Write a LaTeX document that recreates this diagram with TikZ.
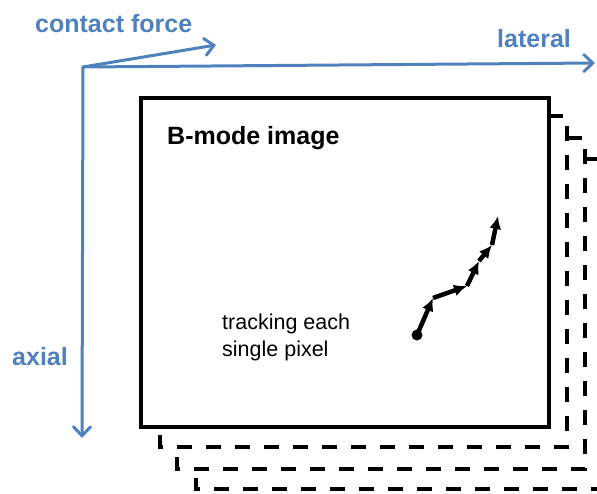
\documentclass[tikz,border=0pt]{standalone}
\usepackage{fontspec}
\setmainfont{Liberation Sans}
\usetikzlibrary{arrows.meta}
\definecolor{axisblue}{RGB}{79,129,189}
\begin{document}
\begin{tikzpicture}[x=1pt,y=-1pt,
  axis/.style={draw=axisblue, line width=3pt, line cap=round, -{Straight Barb[length=9pt,width=17pt,line cap=round]}},
  axislabel/.style={text=axisblue, font=\bfseries\fontsize{25}{30}\selectfont, inner sep=0pt, anchor=base west},
  dashrect/.style={draw=black, fill=white, line width=3.5pt, dash pattern=on 15pt off 14pt},
  mainrect/.style={draw=black, fill=white, line width=3.5pt},
  track/.style={line width=4.5pt, -{Latex[length=13pt,width=12pt]}},
]
\useasboundingbox (0,0) rectangle (597,493);
% stacked frames (back to front)
\path[dashrect] (196,159) rectangle (604,489);
\path[dashrect] (177,138) rectangle (585,469);
\path[dashrect] (160,116) rectangle (567,447);
\path[mainrect] (141,98) rectangle (549,427);
% axes
\coordinate (o) at (83,67);
\coordinate (lat) at (595,63);
\coordinate (cf) at (216,45);
\coordinate (ax) at (82,438);
\draw[axis] (o) -- (lat);
\draw[axis] (o) -- (cf);
\draw[axis] (o) -- (ax);
\node[axislabel] (lcf) at (35,32) {contact force};
\node[axislabel] (llat) at (497,47) {lateral};
\node[axislabel] (lax) at (12,365) {axial};
% labels
\node[inner sep=0pt, anchor=base west, font=\bfseries\fontsize{25}{30}\selectfont] (bmode) at (167,144) {B-mode image};
\node[inner sep=0pt, anchor=north west, align=left, font=\fontsize{21.5}{26.5}\selectfont] (trk) at (222,314) {tracking each\\single pixel};
% trajectory
\coordinate (p0) at (417,335);
\coordinate (p1) at (433,298);
\coordinate (p2) at (467,286);
\coordinate (p3) at (479,261);
\coordinate (p4) at (492,245);
\coordinate (p5) at (498,216);
\fill (p0) circle (5.5pt);
\draw[track] (p0) -- (p1);
\draw[track] (p1) -- (p2);
\draw[track] (p2) -- (p3);
\draw[track] (p3) -- (p4);
\draw[track] (p4) -- (p5);
\end{tikzpicture}
\end{document}
